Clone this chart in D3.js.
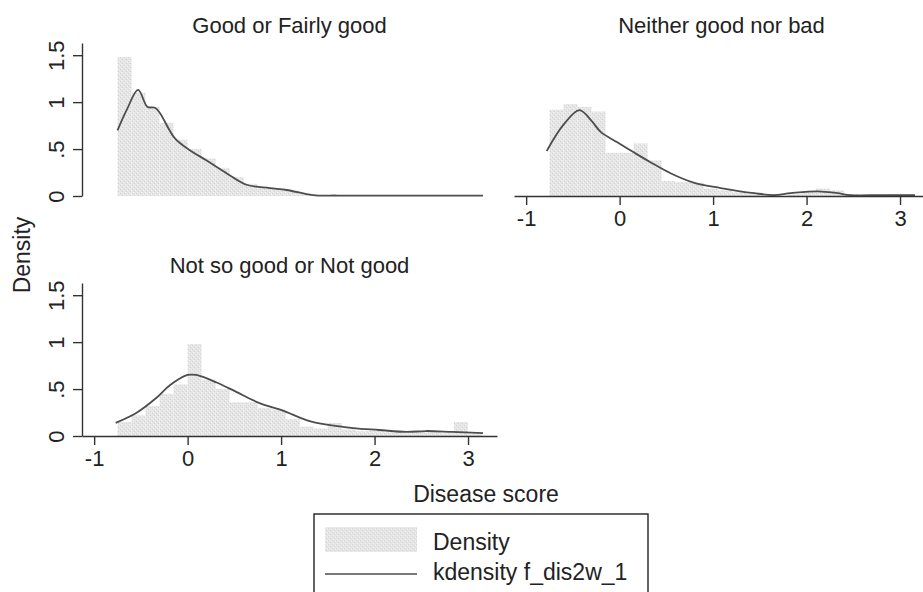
<!DOCTYPE html>
<html>
<head>
<meta charset="utf-8">
<script src="https://cdn.jsdelivr.net/npm/d3@7"></script>
<style>
  body { margin: 0; background: #fff; }
  svg { display: block; font-family: "Liberation Sans", Arial, sans-serif; }
</style>
</head>
<body>
<svg id="chart" width="923" height="592"></svg>
<script>
// Panel titles (by group)
const panelTitles = ["Good or Fairly good", "Neither good nor bad", "Not so good or Not good"];

// Histogram bins: start and width, heights per bin
const binStart = -0.75;
const binWidth = 0.15;
const histGood = [1.48, 1.10, 0.95, 0.78, 0.60, 0.50, 0.40, 0.30, 0.20, 0.13, 0.09, 0.08, 0.06, 0.02, 0.01, 0.005, 0, 0, 0, 0, 0, 0, 0, 0, 0, 0];
const histNeither = [0.92, 0.98, 0.95, 0.90, 0.46, 0.46, 0.56, 0.38, 0.16, 0.15, 0.14, 0.08, 0.06, 0.04, 0.02, 0.01, 0, 0.02, 0.05, 0.08, 0.06, 0.02, 0, 0.01, 0.02, 0.02];
const histNotGood = [0.15, 0.22, 0.32, 0.45, 0.55, 0.98, 0.60, 0.50, 0.36, 0.36, 0.30, 0.28, 0.18, 0.10, 0.08, 0.14, 0.07, 0.05, 0.06, 0.04, 0.03, 0.05, 0.04, 0.03, 0.15, 0.02];

// Kernel density curves (x, density)
const kdGoodX = [-0.75, -0.65, -0.53, -0.43, -0.35, -0.30, -0.14, 0.02, 0.20, 0.42, 0.63, 0.88, 1.06, 1.34, 1.60, 2.00, 2.50, 3.16];
const kdGoodY = [0.70, 0.92, 1.13, 0.95, 0.94, 0.89, 0.62, 0.49, 0.38, 0.24, 0.12, 0.085, 0.064, 0.01, 0.005, 0.003, 0.003, 0.003];
const kdNeitherX = [-0.78, -0.60, -0.43, -0.30, -0.20, -0.02, 0.16, 0.33, 0.55, 0.80, 1.08, 1.44, 1.65, 1.83, 2.12, 2.33, 2.47, 2.80, 3.16];
const kdNeitherY = [0.48, 0.76, 0.915, 0.80, 0.68, 0.57, 0.46, 0.36, 0.24, 0.14, 0.085, 0.03, 0.01, 0.03, 0.05, 0.03, 0.01, 0.01, 0.01];
const kdNotX = [-0.77, -0.55, -0.33, -0.19, 0.00, 0.09, 0.31, 0.52, 0.77, 1.02, 1.27, 1.49, 1.77, 2.05, 2.34, 2.55, 2.83, 3.16];
const kdNotY = [0.14, 0.245, 0.41, 0.54, 0.65, 0.65, 0.57, 0.47, 0.35, 0.27, 0.17, 0.12, 0.085, 0.064, 0.043, 0.053, 0.043, 0.03];

// Axis ticks
const xTicks = [-1, 0, 1, 2, 3];
const xTickLabels = ["-1", "0", "1", "2", "3"];
const yTicks = [0, 0.5, 1, 1.5];
const yTickLabels = ["0", ".5", "1", "1.5"];

// Legend labels
const legendLabels = ["Density", "kdensity f_dis2w_1"];

// Layout settings
const plotW = 415, plotH = 153;
const fontSize = 22;
const ink = "#222";
const axisColor = "#333";
const curveColor = "#4d4d4d";

const svg = d3.select("#chart");

// Stippled light grey fill for histogram bars
const defs = svg.append("defs");
const pat = defs.append("pattern")
    .attr("id", "stipple")
    .attr("patternUnits", "userSpaceOnUse")
    .attr("width", 4).attr("height", 4);
pat.append("rect").attr("width", 4).attr("height", 4).attr("fill", "#e6e6e6");
pat.append("rect").attr("x", 0).attr("y", 0).attr("width", 1).attr("height", 1).attr("fill", "#cfcfcf");
pat.append("rect").attr("x", 2).attr("y", 2).attr("width", 1).attr("height", 1).attr("fill", "#d4d4d4");
pat.append("rect").attr("x", 3).attr("y", 1).attr("width", 1).attr("height", 1).attr("fill", "#f2f2f2");
pat.append("rect").attr("x", 1).attr("y", 3).attr("width", 1).attr("height", 1).attr("fill", "#f0f0f0");

const x = d3.scaleLinear().domain([-1.13, 3.31]).range([0, plotW]);
const y = d3.scaleLinear().domain([0, 1.63]).range([plotH, 0]);

const panels = [
  { title: panelTitles[0], hist: histGood, kx: kdGoodX, ky: kdGoodY, left: 82, top: 43, showX: false, showY: true },
  { title: panelTitles[1], hist: histNeither, kx: kdNeitherX, ky: kdNeitherY, left: 514, top: 43, showX: true, showY: false },
  { title: panelTitles[2], hist: histNotGood, kx: kdNotX, ky: kdNotY, left: 82, top: 283, showX: true, showY: true }
];

const line = d3.line()
    .x(d => x(d[0]))
    .y(d => y(d[1]))
    .curve(d3.curveCatmullRom.alpha(0.5));

panels.forEach(p => {
  const g = svg.append("g").attr("transform", `translate(${p.left},${p.top})`);

  // Panel title
  g.append("text")
      .attr("x", plotW / 2)
      .attr("y", -10)
      .attr("text-anchor", "middle")
      .attr("font-size", fontSize)
      .attr("fill", ink)
      .text(p.title);

  // Histogram bars
  g.append("g").selectAll("rect")
    .data(p.hist.map((h, i) => ({ x0: binStart + i * binWidth, h: h })).filter(d => d.h > 0))
    .join("rect")
      .attr("x", d => x(d.x0))
      .attr("width", x(binWidth) - x(0))
      .attr("y", d => y(d.h))
      .attr("height", d => y(0) - y(d.h))
      .attr("fill", "url(#stipple)");

  // Kernel density line
  g.append("path")
      .datum(p.kx.map((v, i) => [v, p.ky[i]]))
      .attr("d", line)
      .attr("fill", "none")
      .attr("stroke", curveColor)
      .attr("stroke-width", 1.8);

  if (p.showY) {
    const ay = g.append("g")
        .call(d3.axisLeft(y).tickValues(yTicks)
          .tickFormat((d, i) => yTickLabels[i])
          .tickSize(9).tickSizeOuter(0));
    ay.select(".domain").attr("stroke", axisColor).attr("stroke-width", 1.4);
    ay.selectAll(".tick line").attr("stroke", axisColor).attr("stroke-width", 1.4);
    ay.selectAll(".tick text")
        .attr("transform", "rotate(-90)")
        .attr("x", 0).attr("y", -18).attr("dy", 0)
        .attr("text-anchor", "middle")
        .attr("font-size", fontSize)
        .attr("font-family", "Liberation Sans, Arial, sans-serif")
        .attr("fill", ink);
  }

  if (p.showX) {
    const ax = g.append("g")
        .attr("transform", `translate(0,${plotH})`)
        .call(d3.axisBottom(x).tickValues(xTicks)
          .tickFormat((d, i) => xTickLabels[i])
          .tickSize(9).tickPadding(5).tickSizeOuter(0));
    ax.select(".domain").attr("stroke", axisColor).attr("stroke-width", 1.4);
    ax.selectAll(".tick line").attr("stroke", axisColor).attr("stroke-width", 1.4);
    ax.selectAll(".tick text")
        .attr("font-size", fontSize)
        .attr("font-family", "Liberation Sans, Arial, sans-serif")
        .attr("fill", ink);
  }
});

// Axis titles
svg.append("text")
    .attr("transform", "translate(30,255) rotate(-90)")
    .attr("text-anchor", "middle")
    .attr("font-size", 23)
    .attr("fill", ink)
    .text("Density");

svg.append("text")
    .attr("x", 486).attr("y", 502)
    .attr("text-anchor", "middle")
    .attr("font-size", 23)
    .attr("fill", ink)
    .text("Disease score");

// Legend
const lg = svg.append("g").attr("transform", "translate(314,514)");
lg.append("rect")
    .attr("width", 334).attr("height", 90)
    .attr("fill", "#fff")
    .attr("stroke", "#222")
    .attr("stroke-width", 1.4);
lg.append("rect")
    .attr("x", 11).attr("y", 13).attr("width", 92).attr("height", 25)
    .attr("fill", "url(#stipple)");
lg.append("line")
    .attr("x1", 11).attr("x2", 103).attr("y1", 60).attr("y2", 60)
    .attr("stroke", curveColor).attr("stroke-width", 1.6);
lg.selectAll("text.leg")
  .data(legendLabels)
  .join("text")
    .attr("class", "leg")
    .attr("x", 119)
    .attr("y", (d, i) => 36 + i * 30)
    .attr("font-size", 23)
    .attr("fill", ink)
    .text(d => d);
</script>
</body>
</html>
